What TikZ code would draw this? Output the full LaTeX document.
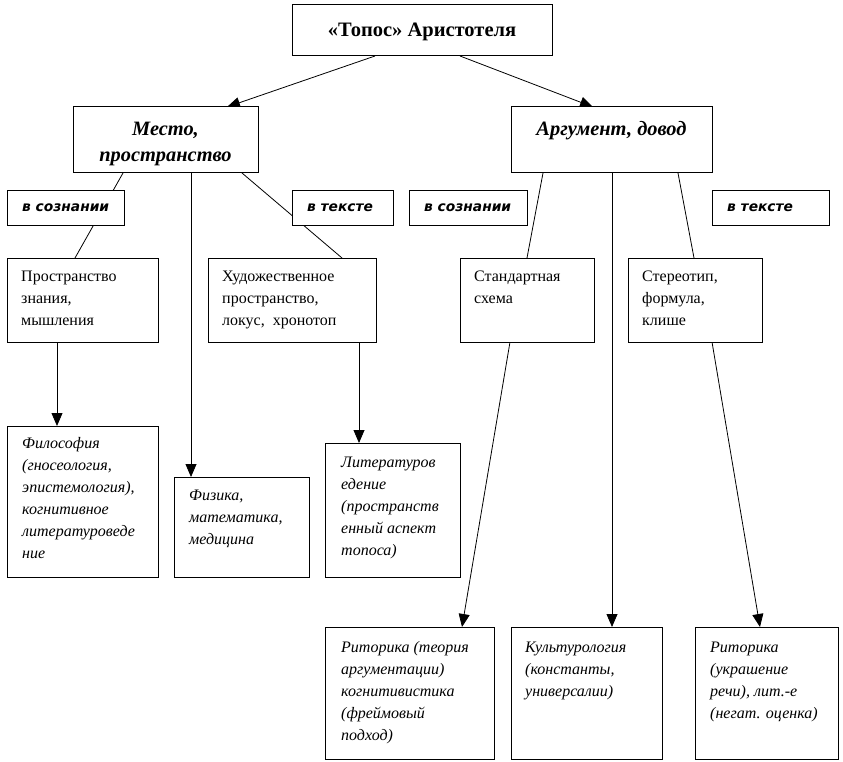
\documentclass[tikz,border=0pt]{standalone}
\usepackage{fontspec}
\setmainfont{Liberation Serif}
\newfontfamily\lblfont{DejaVu Sans}
\usetikzlibrary{arrows.meta,calc}
\pgfdeclarelayer{bg}
\pgfsetlayers{bg,main}
\begin{document}
\begin{tikzpicture}[x=1pt,y=-1pt,
  box/.style={draw=black, line width=1pt, fill=white, anchor=north west, inner sep=0pt, outer sep=0pt},
  txt/.style={anchor=north west, inner sep=0pt, align=left, font=\fontsize{16}{22}\selectfont},
  itxt/.style={anchor=north west, inner sep=0pt, align=left, font=\fontsize{16}{22}\selectfont\itshape},
  headtxt/.style={anchor=north, inner sep=0pt, align=center, font=\fontsize{20.4}{26}\selectfont\bfseries\itshape},
  lbltxt/.style={anchor=west, inner sep=0pt, font=\lblfont\fontsize{13.8}{16}\selectfont\bfseries\itshape},
  conn/.style={line width=0.8pt},
  arr/.style={conn, -{Triangle[length=13pt,width=11pt]}}
]
\useasboundingbox (0,0) rectangle (843,762);

% --- boxes ---
\node[box, minimum width=260pt, minimum height=51pt] (title) at (292,5) {};
\node[inner sep=0pt, font=\fontsize{20.5}{22}\selectfont\bfseries] (titletxt) at ([yshift=-1pt]title.center) {«Топос» Аристотеля};

\node[box, minimum width=185pt, minimum height=66pt] (mesto) at (73,107) {};
\node[headtxt] (mestotxt) at ([yshift=-9pt]mesto.north) {\rule{0pt}{19pt}Место,\\пространство};

\node[box, minimum width=201pt, minimum height=66pt] (arg) at (511,107) {};
\node[headtxt] (argtxt) at ([yshift=-9pt]arg.north) {\rule{0pt}{19pt}Аргумент, довод};

\node[box, minimum width=117pt, minimum height=34pt] (lbla) at (7,191) {};
\node[lbltxt] (lblatxt) at ([xshift=15pt]lbla.west) {в сознании};
\node[box, minimum width=101pt, minimum height=34pt] (lblb) at (292,191) {};
\node[lbltxt] (lblbtxt) at ([xshift=15pt]lblb.west) {в тексте};
\node[box, minimum width=118pt, minimum height=34pt] (lblc) at (409,191) {};
\node[lbltxt] (lblctxt) at ([xshift=15pt]lblc.west) {в сознании};
\node[box, minimum width=117pt, minimum height=34pt] (lbld) at (712,191) {};
\node[lbltxt] (lbldtxt) at ([xshift=15pt]lbld.west) {в тексте};

\node[box, minimum width=151pt, minimum height=84pt] (prostr) at (7,258) {};
\node[txt] (prostrtxt) at ([shift={(14pt,-8pt)}]prostr.north west) {\rule{0pt}{15pt}Пространство\\знания,\\мышления};
\node[box, minimum width=168pt, minimum height=84pt] (khud) at (208,258) {};
\node[txt] (khudtxt) at ([shift={(14pt,-8pt)}]khud.north west) {\rule{0pt}{15pt}Художественное\\пространство,\\локус,\ \ хронотоп};
\node[box, minimum width=134pt, minimum height=84pt] (std) at (460,258) {};
\node[txt] (stdtxt) at ([shift={(14pt,-8pt)}]std.north west) {\rule{0pt}{15pt}Стандартная\\схема};
\node[box, minimum width=134pt, minimum height=84pt] (ster) at (628,258) {};
\node[txt] (stertxt) at ([shift={(14pt,-8pt)}]ster.north west) {\rule{0pt}{15pt}Стереотип,\\формула,\\клише};

\node[box, minimum width=151pt, minimum height=151pt] (filos) at (7,426) {};
\node[itxt] (filostxt) at ([shift={(15pt,-7pt)}]filos.north west) {\rule{0pt}{15pt}Философия\\(гносеология,\\эпистемология),\\когнитивное\\литературоведе\\ние};
\node[box, minimum width=135pt, minimum height=100pt] (fiz) at (174,477) {};
\node[itxt] (fiztxt) at ([shift={(15pt,-8pt)}]fiz.north west) {\rule{0pt}{15pt}Физика,\\математика,\\медицина};
\node[box, minimum width=135pt, minimum height=134pt] (lit) at (325,443) {};
\node[itxt] (littxt) at ([shift={(16pt,-9pt)}]lit.north west) {\rule{0pt}{15pt}Литературов\\едение\\(пространств\\енный аспект\\топоса)};

\node[box, minimum width=169pt, minimum height=132pt] (rit) at (325,627) {};
\node[itxt] (rittxt) at ([shift={(16pt,-10pt)}]rit.north west) {\rule{0pt}{15pt}Риторика (теория\\аргументации)\\когнитивистика\\(фреймовый\\подход)};
\node[box, minimum width=151pt, minimum height=132pt] (kult) at (511,627) {};
\node[itxt] (kulttxt) at ([shift={(14pt,-10pt)}]kult.north west) {\rule{0pt}{15pt}Культурология\\(константы,\\универсалии)};
\node[box, minimum width=143pt, minimum height=132pt] (ritb) at (695,627) {};
\node[itxt] (ritbtxt) at ([shift={(15pt,-10pt)}]ritb.north west) {\rule{0pt}{15pt}Риторика\\(украшение\\речи), лит.-е\\(негат. оценка)};

% --- connectors ---
\begin{pgfonlayer}{bg}
\draw[arr] ([xshift=83pt]title.south west) -- ([xshift=154pt]mesto.north west);
\draw[arr] ([xshift=168pt]title.south west) -- ([xshift=82pt]arg.north west);

\draw[conn] ([xshift=50pt]mesto.south west) -- ([xshift=68pt]prostr.north west);
\draw[arr] ([xshift=118pt]mesto.south west) -- ([xshift=17pt]fiz.north west);
\draw[conn] ([xshift=169pt]mesto.south west) -- ([xshift=134pt]khud.north west);
\draw[arr] ([xshift=50pt]prostr.south west) -- ([xshift=50pt]filos.north west);
\draw[arr] ([xshift=151pt]khud.south west) -- ([xshift=34pt]lit.north west);

\draw[conn] ([xshift=32pt]arg.south west) -- ([xshift=67pt]std.north west);
\draw[arr] ([xshift=101pt]arg.south west) -- ([xshift=101pt]kult.north west);
\draw[conn] ([xshift=167pt]arg.south west) -- ([xshift=66pt]ster.north west);
\draw[arr] ([xshift=50pt]std.south west) -- ([xshift=137pt]rit.north west);
\draw[arr] ([xshift=84pt]ster.south west) -- ([xshift=65pt]ritb.north west);
\end{pgfonlayer}
\end{tikzpicture}
\end{document}
